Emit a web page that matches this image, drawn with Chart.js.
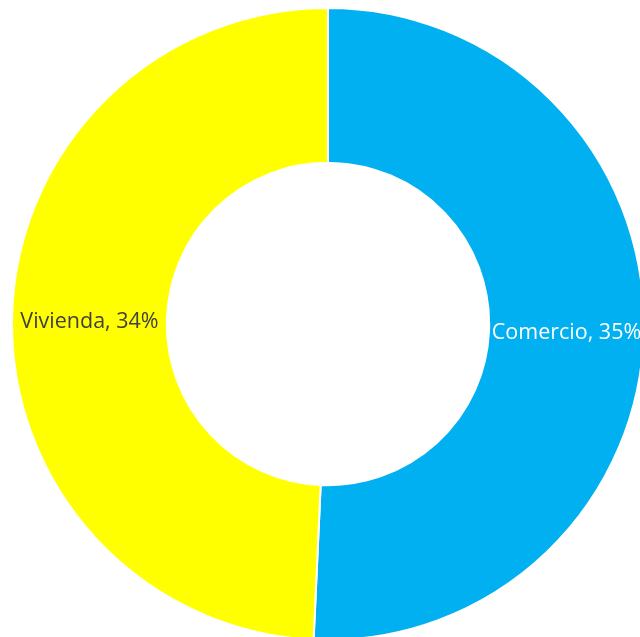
<!DOCTYPE html>
<html>
<head>
<meta charset="utf-8">
<script src="https://cdn.jsdelivr.net/npm/chart.js@4"></script>
<style>
  html, body { margin: 0; padding: 0; width: 640px; height: 637px; overflow: hidden; background: #fff; }
  #wrap { position: absolute; left: 11px; top: 7px; width: 634px; height: 634px; }
</style>
</head>
<body>
<div id="wrap"><canvas id="usosChart" width="634" height="634"></canvas></div>
<script>
const categories = ['Comercio', 'Vivienda'];
const percents = [35, 34];
const sliceColors = ['#00B0F0', '#FFFF00'];
const labelColors = ['#FFFFFF', '#404040'];

// draws "Categoria, NN%" at the middle of each slice
const sliceLabels = {
    id: 'sliceLabels',
    afterDatasetsDraw(chart) {
        const { ctx } = chart;
        const meta = chart.getDatasetMeta(0);
        ctx.save();
        ctx.font = '21.5px "Open Sans", sans-serif';
        ctx.textAlign = 'center';
        ctx.textBaseline = 'middle';
        meta.data.forEach((arc, i) => {
            const pos = arc.tooltipPosition();
            ctx.fillStyle = labelColors[i];
            ctx.fillText(`${categories[i]}, ${percents[i]}%`, pos.x, pos.y + 3);
        });
        ctx.restore();
    },
};

new Chart(document.getElementById('usosChart').getContext('2d'), {
    type: 'doughnut',
    data: {
        labels: categories,
        datasets: [
            {
                data: percents,
                backgroundColor: sliceColors,
                borderColor: '#FFFFFF',
                borderWidth: 2,
            },
        ],
    },
    options: {
        responsive: false,
        animation: false,
        cutout: '51%',
        layout: { padding: 0 },
        plugins: {
            legend: { display: false },
            tooltip: { enabled: false },
        },
    },
    plugins: [sliceLabels],
});
</script>
</body>
</html>
